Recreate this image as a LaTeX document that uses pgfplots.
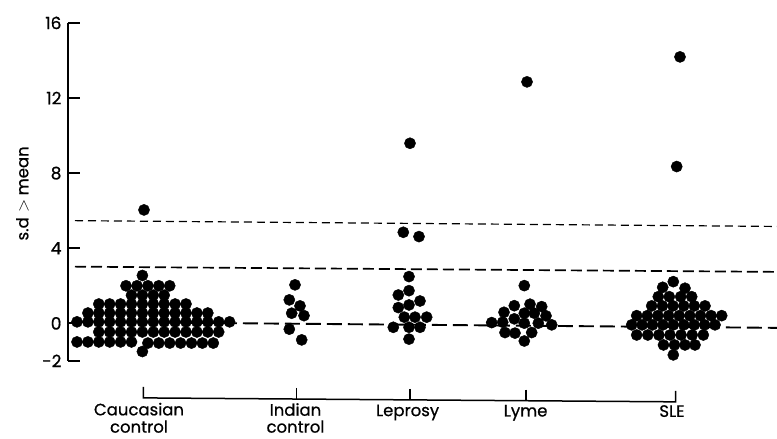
\documentclass[border=0pt]{standalone}
\usepackage{fontspec}
\setmainfont{Poppins}[FakeBold=0.7]
\usepackage{pgfplots}
\pgfplotsset{compat=1.18}
\begin{document}
\begin{tikzpicture}
\begin{axis}[
  scale only axis, width=709pt, height=338pt,
  xmin=68, xmax=777, ymin=-2, ymax=16,
  axis x line=none, axis y line*=left,
  axis line style={line width=2pt, black},
  ytick={-2,0,4,8,12,16}, yticklabels={-2,0,4,8,12,16},
  tick align=inside, major tick length=12pt,
  every tick/.style={line width=1.8pt, black},
  yticklabel style={font=\fontsize{17}{20}\selectfont, anchor=east, xshift=-3pt},
  clip=false,
]
% dashed reference lines
\addplot[black, line width=1.2pt, dash pattern=on 8pt off 5pt] coordinates {(75,5.47) (777,5.16)};
\addplot[black, line width=1.7pt, dash pattern=on 11pt off 5pt] coordinates {(75,3.02) (777,2.74)};
\addplot[black, line width=1.9pt, dash pattern=on 15pt off 6pt] coordinates {(75,0.08) (777,-0.24)};

% Caucasian control
\addplot[only marks, mark=*, mark size=5.6pt, black] table {
x y
144 6.04
142.4 2.55
126 2.0
137 2.0
147.9 2.0
158.8 2.0
169.7 2.0
131.5 1.5
142.4 1.5
153.3 1.5
164.2 1.5
98.8 1.03
109.7 1.03
120.6 1.03
131.5 1.03
142.4 1.03
153.3 1.03
164.2 1.03
175.1 1.03
186 1.03
87.9 0.55
98.8 0.55
109.7 0.55
120.6 0.55
131.5 0.55
142.4 0.55
153.3 0.55
164.2 0.55
175.1 0.55
186 0.55
196.9 0.55
207.8 0.55
77 0.08
87.9 0.08
98.8 0.08
109.7 0.08
120.6 0.08
131.5 0.08
142.4 0.08
153.3 0.08
164.2 0.08
175.1 0.08
186 0.08
196.9 0.08
207.8 0.08
218.7 0.08
229.6 0.08
98.8 -0.46
109.7 -0.46
120.6 -0.46
131.5 -0.46
142.4 -0.46
153.3 -0.46
164.2 -0.46
175.1 -0.46
186 -0.46
196.9 -0.46
207.8 -0.46
218.7 -0.46
77 -0.99
87.9 -0.99
98.8 -0.99
109.7 -0.99
120.6 -0.99
131.5 -0.99
147.9 -1.05
158.8 -1.05
169.7 -1.05
180.6 -1.05
191.5 -1.05
202.4 -1.05
213.3 -1.05
142.4 -1.5
};

% Indian control
\addplot[only marks, mark=*, mark size=5.6pt, black] table {
x y
295 2.05
289.3 1.25
300 0.93
291.7 0.54
304 0.41
289.3 -0.31
301.7 -0.88
};

% Leprosy
\addplot[only marks, mark=*, mark size=5.6pt, black] table {
x y
410 9.59
403.3 4.85
419 4.62
409 2.49
409 1.74
398.3 1.51
420 1.19
409 0.98
398.3 0.84
404.3 0.33
415 0.33
426.7 0.33
393.3 -0.21
409 -0.21
420 -0.21
409 -0.84
};

% Lyme
\addplot[only marks, mark=*, mark size=5.6pt, black] table {
x y
527 12.86
524.3 2.01
514.3 0.94
530 1.02
541.7 0.89
504 0.59
524.3 0.54
534.3 0.54
546 0.40
514.3 0.24
491.7 0.04
502.7 0.06
524.3 0.01
538.3 0.01
551.7 -0.08
505 -0.49
515 -0.52
531.7 -0.49
524.3 -0.94
};

% SLE
\addplot[only marks, mark=*, mark size=5.6pt, black] table {
x y
680 14.19
676.7 8.35
673.3 2.22
662.7 1.92
685 1.87
658.3 1.42
669.3 1.42
680.7 1.42
691.7 1.42
651.7 0.93
662.4 0.93
673 0.93
683.7 0.93
694.3 0.93
705 0.93
636.7 0.41
647.3 0.41
657.9 0.41
668.6 0.41
679.2 0.41
689.8 0.41
700.5 0.41
711.1 0.41
721.7 0.41
631.7 -0.08
642.1 -0.08
652.5 -0.08
662.9 -0.08
673.3 -0.08
683.8 -0.08
694.2 -0.08
704.6 -0.08
715 -0.08
636.7 -0.62
647.8 -0.62
658.9 -0.62
670 -0.62
681.1 -0.62
692.2 -0.62
703.3 -0.62
663.5 -1.15
674.5 -1.15
685 -1.15
695 -1.15
673.3 -1.68
};

% category axis
\draw[line width=1.5pt, black] (axis cs:143.5,-3.38) -- (axis cs:143.5,-3.97) -- (axis cs:675.6,-4.18) -- (axis cs:675.6,-3.60);
\draw[line width=1.5pt, black] (axis cs:296.4,-3.44) -- (axis cs:296.4,-4.03);
\draw[line width=1.5pt, black] (axis cs:409.8,-3.49) -- (axis cs:409.8,-4.08);
\draw[line width=1.5pt, black] (axis cs:525.8,-3.53) -- (axis cs:525.8,-4.12);

\begin{scope}[every node/.style={font=\fontsize{16.5}{19}\selectfont, anchor=base, inner sep=0pt}]
\node at (axis cs:139,-4.90) {Caucasian};
\node at (axis cs:139,-5.82) {control};
\node at (axis cs:295.5,-4.92) {Indian};
\node at (axis cs:295.5,-5.82) {control};
\node at (axis cs:407.6,-4.94) {Leprosy};
\node at (axis cs:525.6,-4.96) {Lyme};
\node at (axis cs:672,-4.98) {SLE};
\end{scope}

\node[font=\fontsize{16.5}{19}\selectfont, rotate=90, anchor=base, inner sep=0pt] at (axis cs:28.3,6.92) {s.d $>$ mean};

\coordinate (bl) at (axis cs:0,-6.153);
\coordinate (tr) at (axis cs:777,17.22);
\end{axis}
\pgfresetboundingbox
\useasboundingbox (bl) rectangle (tr);
\end{tikzpicture}
\end{document}
